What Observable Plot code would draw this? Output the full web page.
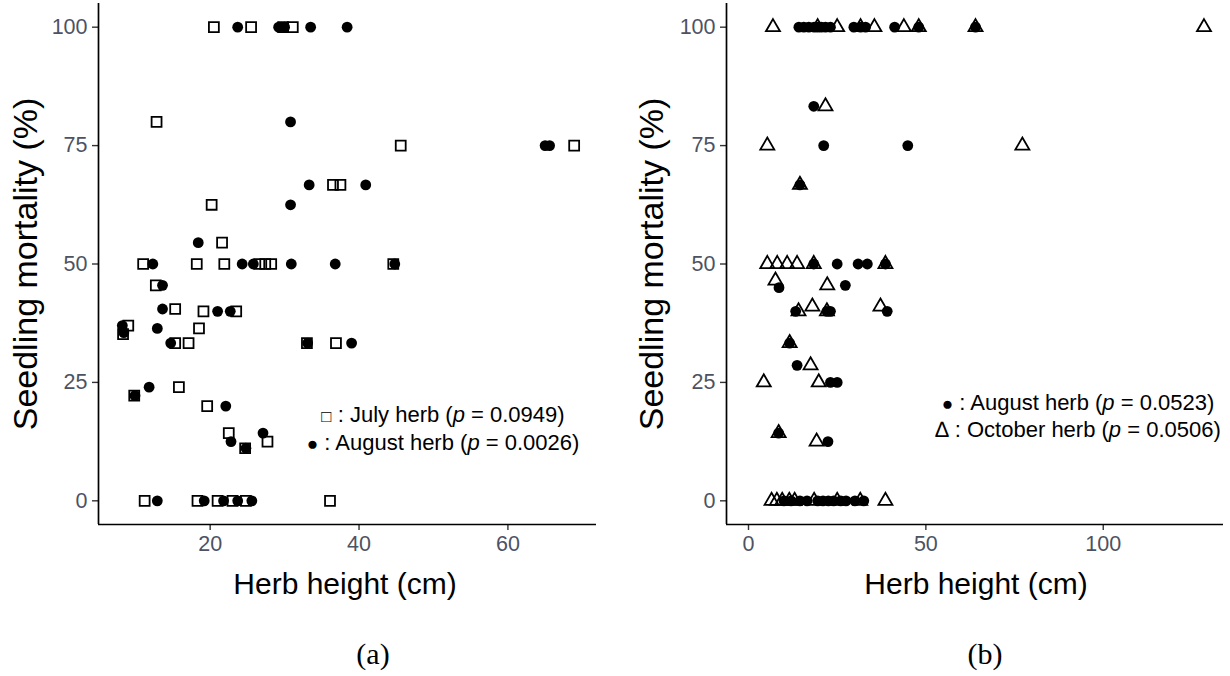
<!DOCTYPE html>
<html><head><meta charset="utf-8">
<script src="https://cdn.jsdelivr.net/npm/d3@7"></script>
<script src="https://cdn.jsdelivr.net/npm/@observablehq/plot@0.6"></script>
<style>
body{margin:0;background:#fff;}
#wrap{position:relative;width:1230px;height:676px;overflow:hidden;font-family:"Liberation Sans",Arial,sans-serif;color:#000;}
.panel{position:absolute;top:0;}
.legend{position:absolute;font-size:22px;line-height:26px;text-align:center;white-space:nowrap;transform:translateX(-50%);}
.xlab{position:absolute;font-size:30px;white-space:nowrap;transform:translate(-50%,-50%);}
.ylab{position:absolute;font-size:34px;white-space:nowrap;transform:translate(-50%,-50%) rotate(-90deg);}
.cap{position:absolute;font-family:"Liberation Serif","Times New Roman",serif;font-size:30px;transform:translate(-50%,-50%);}
</style></head><body><div id="wrap"></div>
<script>
// ---- Panel (a): July herb (open squares) and August herb (filled circles)
const aJulyHeight = [20.5,25.5,29.8,31.1, 12.8, 45.6,68.9, 36.5,37.5, 20.2, 21.6,
  11.0,18.2,21.9,26.6,27.4,28.2,44.6, 12.7, 15.3,19.1,23.5, 18.5, 9.0,8.3,
  15.3,17.1,33.0,36.9, 9.8, 15.8, 19.6, 22.5, 24.7, 27.7,
  11.2,18.3,21.0,23.0,24.8,36.1];
const aJulyMortality = [100,100,100,100, 80, 75,75, 66.7,66.7, 62.5, 54.5,
  50,50,50,50,50,50,50, 45.5, 40.5,40,40, 36.4, 37,35.2,
  33.3,33.3,33.3,33.3, 22.2, 24, 20, 14.3, 11.1, 12.5,
  0,0,0,0,0,0];
const aAugHeight = [23.7,29.2,30.0,33.5,38.4, 30.8, 65.0,65.6, 33.3,40.9, 30.8, 18.4,
  12.3,24.3,25.8,30.9,36.8,44.8, 13.6, 13.6,21.0,22.7, 8.2,12.9,8.4,
  14.7,33.1,39.0, 9.9,11.8, 22.1, 27.1, 22.8, 24.8,
  12.9,19.2,21.8,23.7,25.6];
const aAugMortality = [100,100,100,100,100, 80, 75,75, 66.7,66.7, 62.5, 54.5,
  50,50,50,50,50,50, 45.5, 40.5,40,40, 37,36.4,35.5,
  33.3,33.3,33.3, 22.2,24, 20, 14.3, 12.5, 11.1,
  0,0,0,0,0];

// ---- Panel (b): August herb (filled circles) and October herb (open triangles)
const bAugHeight = [14.2,15.6,17.0,18.5,19.5,20.5,21.7,23.1,29.7,31.6,33.0,41.2,48.0,64.0,
  18.4, 21.2,44.9, 14.5, 18.4,25.0,30.9,33.5,38.6, 8.6,27.3,
  13.3,22.1,23.1,39.1, 11.6, 13.7, 23.1,25.0, 8.5, 22.4,
  10.0,12.0,14.5,16.5,19.5,21.0,22.5,24.0,26.0,27.5,30.0,32.5];
const bAugMortality = [100,100,100,100,100,100,100,100,100,100,100,100,100,100,
  83.3, 75,75, 66.7, 50,50,50,50,50, 45,45.5,
  40,40,40,40, 33.3, 28.6, 25,25, 14.3, 12.5,
  0,0,0,0,0,0,0,0,0,0,0,0];
const bOctHeight = [6.9,19.5,25.0,31.6,35.5,43.8,48.0,64.0,128.4,
  21.7, 5.3,77.2, 14.5, 5.3,8.1,10.9,13.7,18.4,38.6, 7.6,22.2,
  14.1,18.0,22.1,37.2, 11.6, 17.5, 4.3,19.8, 8.5, 19.2,
  6.5,8.0,9.5,11.5,13.0,18.5,25.0,31.5,38.6];
const bOctMortality = [100,100,100,100,100,100,100,100,100,
  83.3, 75,75, 66.7, 50,50,50,50,50,50, 46.5,45.5,
  40,41,40,41, 33.3, 28.6, 25,25, 14.3, 12.5,
  0,0,0,0,0,0,0,0,0];

const yTicks = [0, 25, 50, 75, 100];
const aXTicks = [20, 40, 60];
const bXTicks = [0, 50, 100];
const aXDomain = [5.0, 71.9];
const bXDomain = [-6.2, 133.9];
const yDomain = [-5, 105];

const zip = (xs, ys) => xs.map((x, i) => ({height: x, mortality: ys[i]}));

function makePanel({xDomain, xTicks, width, marginLeft, marginRight, series}) {
  return Plot.plot({
    width, height: 620,
    marginLeft, marginRight, marginTop: 3, marginBottom: 96,
    style: {fontFamily: "'Liberation Sans', Arial, sans-serif", background: "transparent", overflow: "visible"},
    x: {domain: xDomain},
    y: {domain: yDomain},
    marks: [
      Plot.axisX({ticks: xTicks, tickSize: 6, tickPadding: 5, fontSize: 21.5, fill: "#4d5263", stroke: "#333", strokeWidth: 1.4, label: null}),
      Plot.axisY({ticks: yTicks, tickSize: 6, tickPadding: 5, fontSize: 21.5, fill: "#4d5263", stroke: "#333", strokeWidth: 1.4, label: null}),
      Plot.ruleX([xDomain[0]], {stroke: "#000", strokeWidth: 1.7}),
      Plot.ruleY([yDomain[0]], {stroke: "#000", strokeWidth: 1.7}),
      ...series.map(s => Plot.dot(s.data, {x: "height", y: "mortality", symbol: s.symbol, r: s.r,
        fill: s.filled ? "#000" : "none", stroke: "#000", strokeWidth: s.filled ? 0 : 1.8}))
    ]
  });
}

const wrap = document.getElementById("wrap");

const left = makePanel({
  xDomain: aXDomain, xTicks: aXTicks, width: 610, marginLeft: 98, marginRight: 14,
  series: [
    {data: zip(aJulyHeight, aJulyMortality), symbol: "square", r: 5.6, filled: false},
    {data: zip(aAugHeight, aAugMortality), symbol: "circle", r: 5.4, filled: true}
  ]
});
left.classList.add("panel"); left.style.left = "0px";
wrap.appendChild(left);

const right = makePanel({
  xDomain: bXDomain, xTicks: bXTicks, width: 615, marginLeft: 111, marginRight: 7,
  series: [
    {data: zip(bAugHeight, bAugMortality), symbol: "circle", r: 5.4, filled: true},
    {data: zip(bOctHeight, bOctMortality), symbol: "triangle", r: 5.2, filled: false}
  ]
});
right.classList.add("panel"); right.style.left = "615px";
wrap.appendChild(right);

function addText(cls, html, x, y) {
  const d = document.createElement("div");
  d.className = cls; d.innerHTML = html;
  d.style.left = x + "px"; d.style.top = y + "px";
  wrap.appendChild(d);
}
addText("ylab", "Seedling mortality (%)", 25, 264);
addText("ylab", "Seedling mortality (%)", 651, 264);
addText("xlab", "Herb height (cm)", 345, 584);
addText("xlab", "Herb height (cm)", 976, 584);
addText("cap", "(a)", 373, 654);
addText("cap", "(b)", 985, 654);
addText("legend", "<span style='font-size:17px'>□</span> : July herb (<i>p</i> = 0.0949)<br><span style='font-size:19px'>●</span> : August herb (<i>p</i> = 0.0026)", 443, 402);
addText("legend", "<span style='font-size:19px'>●</span> : August herb (<i>p</i> = 0.0523)<br>∆ : October herb (<i>p</i> = 0.0506)", 1078, 390);
</script></body></html>
